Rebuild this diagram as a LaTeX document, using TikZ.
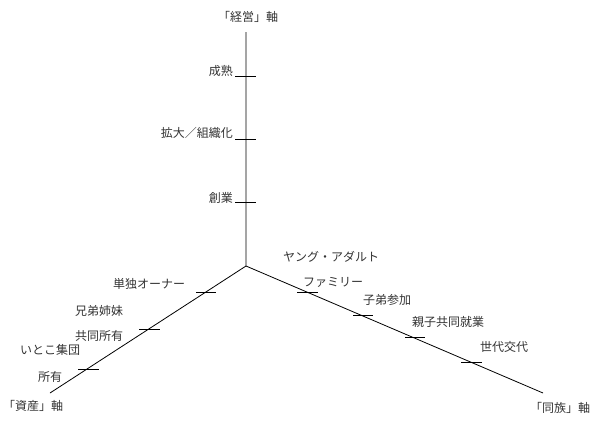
\documentclass[tikz,border=0pt]{standalone}
\usepackage{fontspec}
\newfontfamily\jpfont{Noto Sans CJK JP}
\begin{document}
\begin{tikzpicture}[x=1pt,y=-1pt,
  lbl/.style={font=\jpfont\fontsize{12}{14}\selectfont, text=black!80, inner sep=0pt},
  axisline/.style={line width=0.8pt, black},
  tickline/.style={line width=0.7pt, black}]
\useasboundingbox (0,0) rectangle (600,424);
% axes
\coordinate (O) at (246,266);
\coordinate (T) at (246,32);
\coordinate (L) at (50,393);
\coordinate (R) at (543,393);
\draw[axisline] (T) -- (O) -- (R);
\draw[axisline] (O) -- (L);
% ticks vertical
\foreach \y/\n in {76/a,139/b,202/c}{
  \coordinate (v\n1) at (235,\y); \coordinate (v\n2) at (256,\y);
  \draw[tickline] (v\n1) -- (v\n2);}
% ticks left
\foreach \xa/\xb/\y/\n in {196/216/292/a,139/160/329/b,78/99/369/c}{
  \coordinate (l\n1) at (\xa,\y); \coordinate (l\n2) at (\xb,\y);
  \draw[tickline] (l\n1) -- (l\n2);}
% ticks right
\foreach \xa/\xb/\y/\n in {297/318/292/a,353/373/315/b,405/425/337/c,461/482/362/d}{
  \coordinate (r\n1) at (\xa,\y); \coordinate (r\n2) at (\xb,\y);
  \draw[tickline] (r\n1) -- (r\n2);}
% labels
\node[lbl,anchor=west] (keiei) at (218,17) {「経営」軸};
\node[lbl,anchor=east] (seijuku) at (233,71) {成熟};
\node[lbl,anchor=east] (kakudai) at (233,133) {拡大／組織化};
\node[lbl,anchor=east] (sogyo) at (233,198) {創業};
\node[lbl,anchor=west] (tandoku) at (113,284) {単独オーナー};
\node[lbl,anchor=west] (kyodai) at (75,311) {兄弟姉妹};
\node[lbl,anchor=west] (kyodo) at (75,336) {共同所有};
\node[lbl,anchor=west] (itoko) at (20,350) {いとこ集団};
\node[lbl,anchor=west] (shoyu) at (38,377) {所有};
\node[lbl,anchor=west] (shisan) at (3,406) {「資産」軸};
\node[lbl,anchor=west] (young) at (283,257) {ヤング・アダルト};
\node[lbl,anchor=west] (family) at (303,282) {ファミリー};
\node[lbl,anchor=west] (shitei) at (363,300) {子弟参加};
\node[lbl,anchor=west] (oyako) at (412,322) {親子共同就業};
\node[lbl,anchor=west] (sedai) at (480,347) {世代交代};
\node[lbl,anchor=west] (dozoku) at (530,408) {「同族」軸};
\end{tikzpicture}
\end{document}
